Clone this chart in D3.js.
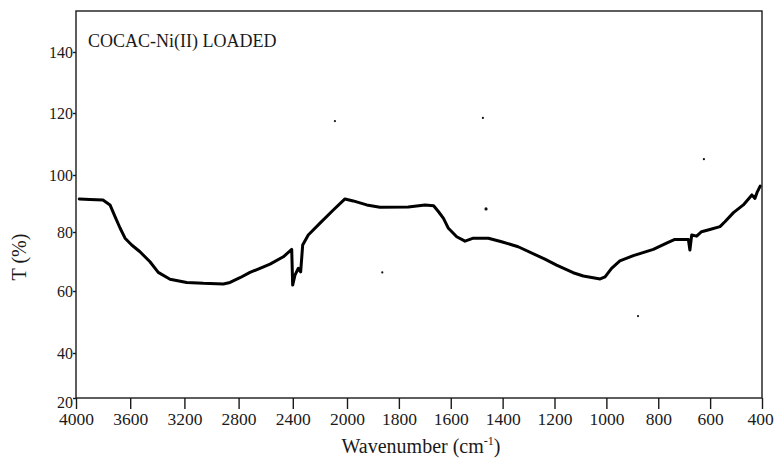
<!DOCTYPE html>
<html>
<head>
<meta charset="utf-8">
<script src="https://cdn.jsdelivr.net/npm/d3@7"></script>
<style>
body{margin:0;background:#fff;}
text{font-family:"Liberation Serif","Times New Roman",serif;fill:#1a1a1a;}
</style>
</head>
<body>
<svg width="774" height="463"></svg>
<script>
var title = "COCAC-Ni(II) LOADED";

// FTIR trace (cm-1 , %T)
var wavenumber = [3976,3897,3801,3749,3712,3675,3638,3589,3528,3454,3393,3306,3183,3061,2913,2863,2790,2716,2568,2470,
	2408,2401,2384,2359,2342,2327,2286,2199,2101,2015,1976,1924,1873,1764,1699,1666,1647,1628,1609,1577,
	1545,1513,1455,1404,1340,1237,1192,1128,1089,1024,1005,980,948,896,819,768,736,684,678,671,
	652,633,601,562,543,510,472,439,427,418,407];
var transmittance = [91.6,91.4,91.2,89.5,85.4,81.4,77.9,75.6,73.3,69.9,66.3,64.0,62.9,62.6,62.4,62.9,64.5,66.3,69.1,71.6,
	74.1,62.0,65.4,67.7,66.5,75.6,79.0,83.1,87.7,91.6,90.9,89.5,88.7,88.8,89.5,89.2,87.1,84.8,81.3,78.4,
	76.9,77.9,77.9,76.7,75.0,70.8,68.8,66.2,65.1,64.1,64.8,67.7,70.2,72.0,74.1,76.2,77.5,77.5,73.9,79.0,
	78.6,80.1,80.9,81.9,83.6,86.8,89.5,93.0,91.8,94.1,96.1];

// stray dots on the scan
var speckWave = [2089,1476,1464,1864,878,624];
var speckT = [117.4,118.4,88.1,66.3,51.9,105.1];

var xTicks = [4000,3600,3200,2800,2400,2000,1800,1600,1400,1200,1000,800,600,400];
var yTicks = [20,40,60,80,100,120,140];

var svg = d3.select("svg");

// axis breaks scale at 2000 cm-1
var x = d3.scaleLinear().domain([4000,2000,400]).range([76,347,762]);
var y = d3.scaleLinear().domain(yTicks).range([398,353,291,232,175,113,52]);
var frameTop = 11;

svg.append("rect")
	.attr("x", x(4000)).attr("y", frameTop)
	.attr("width", x(400) - x(4000)).attr("height", y(20) - frameTop)
	.attr("fill", "none").attr("stroke", "#1a1a1a").attr("stroke-width", 1.4);

var xAxis = svg.append("g")
	.attr("transform", "translate(0," + y(20) + ")")
	.call(d3.axisBottom(x).tickValues(xTicks).tickSize(11).tickPadding(4).tickFormat(d3.format("d")));
xAxis.select(".domain").remove();
xAxis.selectAll("line").attr("stroke", "#1a1a1a").attr("stroke-width", 1.4);
xAxis.selectAll("text").attr("font-size", 17.5).attr("font-family", "Liberation Serif").attr("fill", "#1a1a1a");
xAxis.selectAll(".tick").filter(function(d){ return d == 400; }).select("text").attr("dx", -2);

var yAxis = svg.append("g")
	.attr("transform", "translate(" + x(4000) + ",0)")
	.call(d3.axisLeft(y).tickValues(yTicks).tickSize(3).tickPadding(0));
yAxis.select(".domain").remove();
yAxis.selectAll("line").attr("stroke", "#1a1a1a").attr("stroke-width", 1.4);
yAxis.selectAll("text").attr("font-size", 16).attr("font-family", "Liberation Serif").attr("fill", "#1a1a1a");
yAxis.selectAll(".tick").filter(function(d){ return d == 20; }).select("text").attr("dy", "0.6em");

var pts = wavenumber.map(function(w, i){ return [w, transmittance[i]]; });
var line = d3.line()
	.x(function(d){ return x(d[0]); })
	.y(function(d){ return y(d[1]); });

svg.append("path")
	.datum(pts)
	.attr("d", line)
	.attr("fill", "none")
	.attr("stroke", "#000")
	.attr("stroke-width", 3)
	.attr("stroke-linejoin", "round")
	.attr("stroke-linecap", "round");

svg.selectAll(".speck")
	.data(speckWave)
	.enter().append("circle")
	.attr("class", "speck")
	.attr("cx", function(d){ return x(d); })
	.attr("cy", function(d, i){ return y(speckT[i]); })
	.attr("r", function(d, i){ return i == 2 ? 1.6 : 1.1; })
	.attr("fill", "#111");

svg.append("text")
	.attr("x", 88).attr("y", 47)
	.attr("font-size", 18)
	.text(title);

var xl = svg.append("text")
	.attr("x", 421).attr("y", 453)
	.attr("text-anchor", "middle")
	.attr("font-size", 20);
xl.append("tspan").text("Wavenumber (cm");
xl.append("tspan").attr("font-size", 12).attr("dy", -8).text("-1");
xl.append("tspan").attr("dy", 8).text(")");

svg.append("text")
	.attr("transform", "translate(26,257) rotate(-90)")
	.attr("text-anchor", "middle")
	.attr("font-size", 20)
	.text("T (%)");
</script>
</body>
</html>
